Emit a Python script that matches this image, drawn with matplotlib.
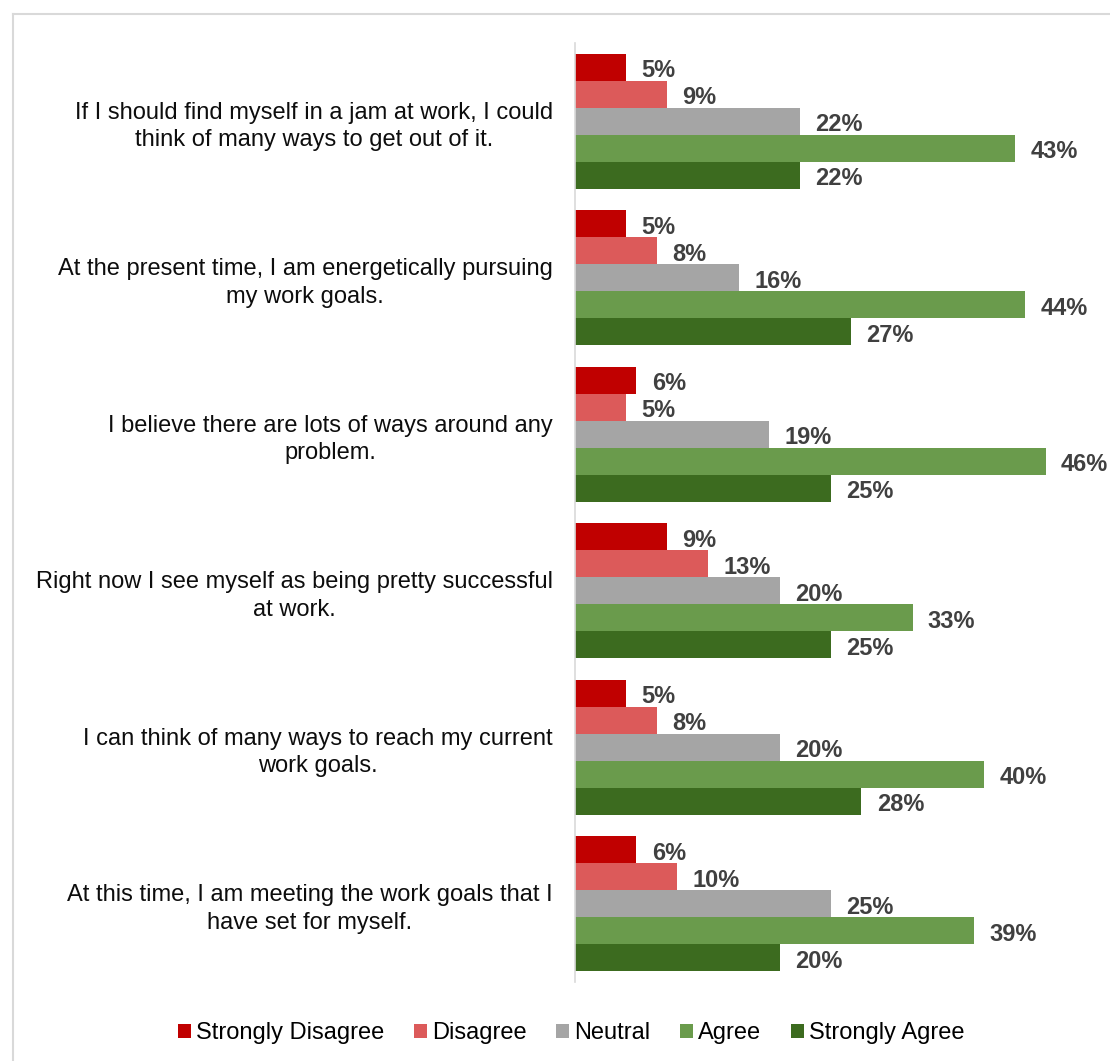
import matplotlib
matplotlib.use("Agg")
import matplotlib.pyplot as plt
from matplotlib.lines import Line2D
from matplotlib.patches import Patch
import numpy as np

plt.rcParams['font.family'] = ['Liberation Sans', 'DejaVu Sans']

statements = [
    "If I should find myself in a jam at work, I could\nthink of many ways to get out of it.",
    "At the present time, I am energetically pursuing\nmy work goals.",
    "I believe there are lots of ways around any\nproblem.",
    "Right now I see myself as being pretty successful\nat work.",
    "I can think of many ways to reach my current\nwork goals.",
    "At this time, I am meeting the work goals that I\nhave set for myself.",
]
series_names = ["Strongly Disagree", "Disagree", "Neutral", "Agree", "Strongly Agree"]
strongly_disagree = [5, 5, 6, 9, 5, 6]
disagree = [9, 8, 5, 13, 8, 10]
neutral = [22, 16, 19, 20, 20, 25]
agree = [43, 44, 46, 33, 40, 39]
strongly_agree = [22, 27, 25, 25, 28, 20]
colors = ["#c00000", "#dc5a5a", "#a5a5a5", "#6a9b4c", "#3c6b1f"]

values = [strongly_disagree, disagree, neutral, agree, strongly_agree]

fig = plt.figure(figsize=(11.10, 10.61), dpi=100)
ax = fig.add_axes([575 / 1110, 1 - 982 / 1061, 1 - 575 / 1110, (982 - 43) / 1061])

n_cat = len(statements)
bar_h = 0.172
y_centers = np.arange(n_cat)
for j, (vals, col) in enumerate(zip(values, colors)):
    ys = y_centers + (j - 2) * bar_h
    ax.barh(ys, vals, height=bar_h, color=col, edgecolor='none')
    for y, v in zip(ys, vals):
        ax.text(v + 1.5, y + 0.022, f"{v}%", va='center', ha='left',
                fontsize=17, fontweight='bold', color='#404040', clip_on=False)

ax.set_ylim(n_cat - 0.5, -0.5)
ax.set_xlim(0, 52.3)
ax.set_yticks(y_centers)
ax.set_yticklabels(statements, fontsize=17, color='#0d0d0d', multialignment='center',
                   linespacing=1.33)
ax.tick_params(axis='y', length=0, pad=16)
ax.set_xticks([])
for side in ['top', 'right', 'bottom']:
    ax.spines[side].set_visible(False)
ax.spines['left'].set_color('#d9d9d9')
ax.spines['left'].set_linewidth(1.2)

handles = [Patch(facecolor=c, edgecolor='none', label=n) for c, n in zip(colors, series_names)]
fig.legend(handles=handles, loc='center', bbox_to_anchor=(571 / 1110, 1 - 1033 / 1061),
           ncol=5, frameon=False, fontsize=17, handlelength=0.55, handleheight=0.55,
           handletextpad=0.22, columnspacing=1.25)

# outer chart frame
fig.add_artist(Line2D([12.5 / 1110, 1], [1 - 13.5 / 1061] * 2, color='#d9d9d9', lw=1.5,
                      transform=fig.transFigure))
fig.add_artist(Line2D([12.5 / 1110] * 2, [0, 1 - 13.5 / 1061], color='#d9d9d9', lw=1.5,
                      transform=fig.transFigure))

fig.savefig("out.png", dpi=100)
